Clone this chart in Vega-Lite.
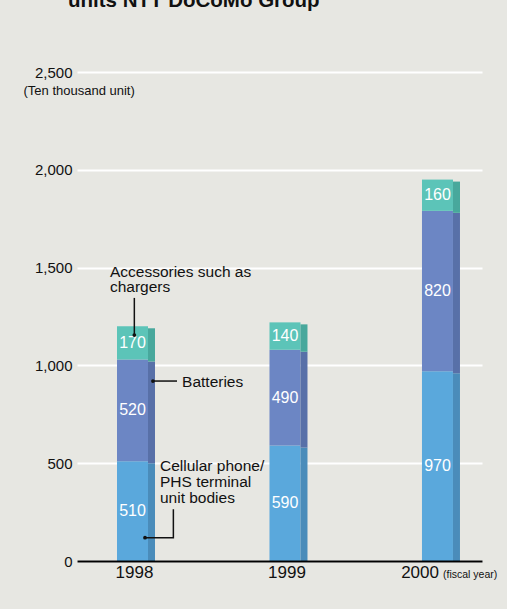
{
  "$schema": "https://vega.github.io/schema/vega-lite/v6.json",
  "width": 405,
  "height": 489,
  "autosize": {"type": "none"},
  "padding": {"left": 77, "top": 72, "right": 25, "bottom": 48},
  "background": "#e7e7e2",
  "config": {"font": "Liberation Sans", "view": {"stroke": null}},
  "title": {
    "text": "units NTT DoCoMo Group",
    "anchor": "start",
    "frame": "group",
    "fontSize": 20.5,
    "fontWeight": "bold",
    "color": "#111111",
    "baseline": "alphabetic",
    "offset": 38,
    "dx": -9
  },
  "datasets": {
    "bars": [
      {"year": 1998, "part": "Cellular phone/PHS terminal unit bodies", "order": 1, "value": 510},
      {"year": 1998, "part": "Batteries", "order": 2, "value": 520},
      {"year": 1998, "part": "Accessories such as chargers", "order": 3, "value": 170},
      {"year": 1999, "part": "Cellular phone/PHS terminal unit bodies", "order": 1, "value": 590},
      {"year": 1999, "part": "Batteries", "order": 2, "value": 490},
      {"year": 1999, "part": "Accessories such as chargers", "order": 3, "value": 140},
      {"year": 2000, "part": "Cellular phone/PHS terminal unit bodies", "order": 1, "value": 970},
      {"year": 2000, "part": "Batteries", "order": 2, "value": 820},
      {"year": 2000, "part": "Accessories such as chargers", "order": 3, "value": 160}
    ],
    "leaders": [
      {"id": "acc", "seq": 1, "x": 1998.012, "y": 1155},
      {"id": "acc", "seq": 2, "x": 1998.012, "y": 1345},
      {"id": "bat", "seq": 1, "x": 1998.134, "y": 920},
      {"id": "bat", "seq": 2, "x": 1998.292, "y": 920},
      {"id": "cel", "seq": 1, "x": 1998.082, "y": 119},
      {"id": "cel", "seq": 2, "x": 1998.268, "y": 119},
      {"id": "cel", "seq": 3, "x": 1998.268, "y": 264}
    ],
    "notes": [
      {"x": 1997.852, "y": 1453, "text": "Accessories such as"},
      {"x": 1997.852, "y": 1377, "text": "chargers"},
      {"x": 1998.325, "y": 890, "text": "Batteries"},
      {"x": 1998.18, "y": 462, "text": "Cellular phone/"},
      {"x": 1998.18, "y": 380, "text": "PHS terminal"},
      {"x": 1998.18, "y": 298, "text": "unit bodies"}
    ],
    "years": [
      {"x": 1998, "y": 0, "text": "1998"},
      {"x": 1999, "y": 0, "text": "1999"},
      {"x": 2000, "y": 0, "text": "2000"}
    ],
    "unit": [{"x": 2000, "y": 0, "text": "(fiscal year)"}]
  },
  "encoding": {
    "x": {
      "field": "x", "type": "quantitative",
      "scale": {"domain": [1997.636, 2000.292], "nice": false, "zero": false, "padding": 0},
      "axis": {
        "title": null,
        "values": [1998, 1999, 2000],
        "labels": false,
        "grid": false,
        "ticks": false,
        "domainColor": "#000000",
        "domainWidth": 2,
        "zindex": 1
      }
    },
    "y": {
      "field": "y", "type": "quantitative",
      "scale": {"domain": [0, 2500], "nice": false, "zero": true, "padding": 0},
      "axis": {
        "title": "(Ten thousand unit)",
        "values": [0, 500, 1000, 1500, 2000, 2500],
        "format": ",d",
        "domain": false,
        "ticks": false,
        "grid": true,
        "gridColor": "#ffffff",
        "gridWidth": 2,
        "labelFontSize": 15,
        "labelColor": "#111111",
        "labelPadding": 5,
        "titleAngle": 0,
        "titleAlign": "left",
        "titleBaseline": "alphabetic",
        "titleX": -54,
        "titleY": 22,
        "titleFontSize": 13,
        "titleFontWeight": "normal",
        "titleColor": "#111111",
        "zindex": 0
      }
    }
  },
  "resolve": {"scale": {"color": "independent"}},
  "layer": [
    {
      "data": {"name": "bars"},
      "transform": [
        {"calculate": "datum.year", "as": "x"},
        {"stack": "value", "groupby": ["year"], "sort": [{"field": "order"}], "as": ["y0", "y"]}
      ],
      "mark": {"type": "bar", "width": 31},
      "encoding": {
        "y2": {"field": "y0"},
        "color": {
          "field": "part", "type": "nominal",
          "scale": {
            "domain": ["Cellular phone/PHS terminal unit bodies", "Batteries", "Accessories such as chargers"],
            "range": ["#5aa8dc", "#6c86c4", "#5cc4b8"]
          },
          "legend": null
        }
      }
    },
    {
      "data": {"name": "bars"},
      "transform": [
        {"calculate": "datum.year", "as": "x"},
        {"stack": "value", "groupby": ["year"], "sort": [{"field": "order"}], "as": ["y0", "y"]}
      ],
      "mark": {"type": "bar", "width": 7, "xOffset": 19, "yOffset": 2, "y2Offset": 2, "clip": true},
      "encoding": {
        "y2": {"field": "y0"},
        "color": {
          "field": "part", "type": "nominal",
          "scale": {
            "domain": ["Cellular phone/PHS terminal unit bodies", "Batteries", "Accessories such as chargers"],
            "range": ["#4a8cba", "#5870a8", "#48a89c"]
          },
          "legend": null
        }
      }
    },
    {
      "data": {"name": "bars"},
      "transform": [
        {"calculate": "datum.year", "as": "x"},
        {"stack": "value", "groupby": ["year"], "sort": [{"field": "order"}], "as": ["s0", "s1"]},
        {"calculate": "(datum.s0 + datum.s1) / 2", "as": "y"}
      ],
      "mark": {"type": "text", "color": "#ffffff", "fontSize": 16, "baseline": "middle", "align": "center"},
      "encoding": {
        "text": {"field": "value", "type": "quantitative"}
      }
    },
    {
      "data": {"name": "leaders"},
      "mark": {"type": "line", "color": "#111111", "strokeWidth": 1.5},
      "encoding": {
        "detail": {"field": "id"},
        "order": {"field": "seq", "type": "quantitative"}
      }
    },
    {
      "data": {"name": "leaders"},
      "transform": [{"filter": "datum.seq == 1"}],
      "mark": {"type": "point", "filled": true, "color": "#111111", "size": 14, "opacity": 1}
    },
    {
      "data": {"name": "notes"},
      "mark": {"type": "text", "align": "left", "baseline": "alphabetic", "fontSize": 15.5, "color": "#111111"},
      "encoding": {"text": {"field": "text"}}
    },
    {
      "data": {"name": "years"},
      "transform": [{"filter": "datum.x < 2000"}],
      "mark": {"type": "text", "align": "center", "baseline": "alphabetic", "fontSize": 17, "color": "#111111", "dx": 2, "dy": 17},
      "encoding": {"text": {"field": "text"}}
    },
    {
      "data": {"name": "years"},
      "transform": [{"filter": "datum.x == 2000"}],
      "mark": {"type": "text", "align": "right", "baseline": "alphabetic", "fontSize": 17, "color": "#111111", "dx": 1.5, "dy": 17},
      "encoding": {"text": {"field": "text"}}
    },
    {
      "data": {"name": "unit"},
      "mark": {"type": "text", "align": "left", "baseline": "alphabetic", "fontSize": 10.5, "color": "#111111", "dx": 5.5, "dy": 17},
      "encoding": {"text": {"field": "text"}}
    }
  ]
}
